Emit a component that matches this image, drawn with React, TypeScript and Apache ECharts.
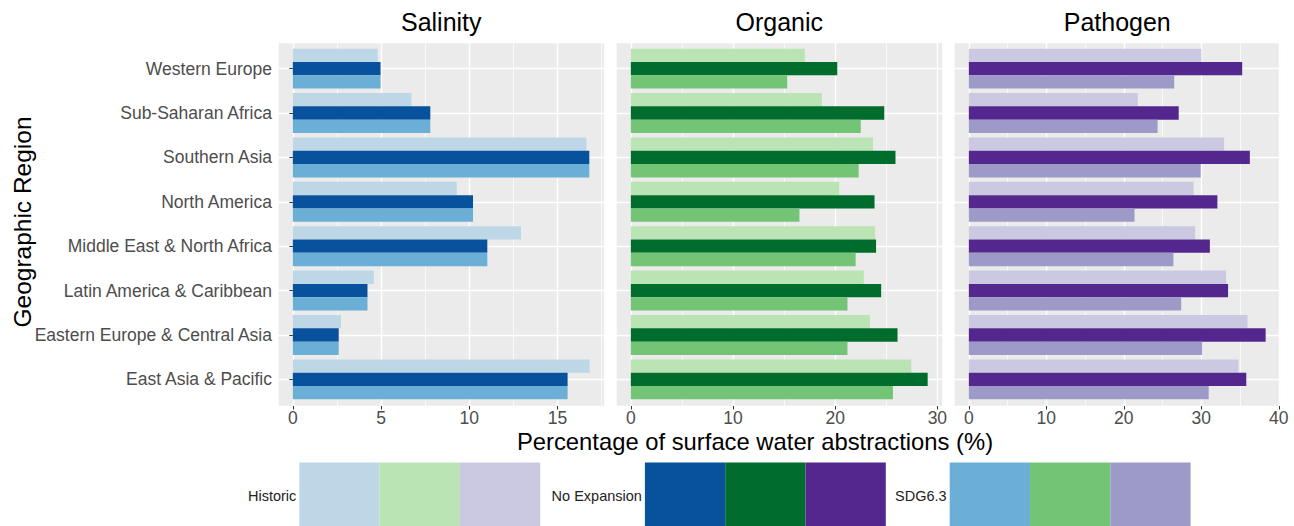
import React, { useEffect, useRef } from "react";
import * as echarts from "echarts";

// ---------- data ----------
const regions = [
  "East Asia & Pacific",
  "Eastern Europe & Central Asia",
  "Latin America & Caribbean",
  "Middle East & North Africa",
  "North America",
  "Southern Asia",
  "Sub-Saharan Africa",
  "Western Europe",
];

const scenarios = ["Historic", "No Expansion", "SDG6.3"];
const panelTitles = ["Salinity", "Organic", "Pathogen"];

const salinityHistoric = [16.82, 2.73, 4.59, 12.93, 9.29, 16.64, 6.72, 4.81];
const salinityNoExpansion = [15.57, 2.6, 4.23, 11.02, 10.21, 16.8, 7.79, 4.97];
const salinitySDG = [15.57, 2.6, 4.23, 11.02, 10.21, 16.8, 7.79, 4.97];

const organicHistoric = [27.45, 23.4, 22.8, 23.9, 20.4, 23.7, 18.7, 17.03];
const organicNoExpansion = [29.05, 26.1, 24.5, 24.0, 23.85, 25.9, 24.8, 20.2];
const organicSDG = [25.65, 21.2, 21.2, 22.0, 16.5, 22.3, 22.5, 15.3];

const pathogenHistoric = [34.8, 35.96, 33.2, 29.2, 29.0, 32.94, 21.8, 30.0];
const pathogenNoExpansion = [35.8, 38.3, 33.45, 31.1, 32.07, 36.26, 27.08, 35.27];
const pathogenSDG = [30.95, 30.1, 27.4, 26.4, 21.38, 29.92, 24.36, 26.5];

const salinityTicks = [0, 5, 10, 15];
const organicTicks = [0, 10, 20, 30];
const pathogenTicks = [0, 10, 20, 30, 40];

const salinityColors = ["#BDD7E7", "#08519C", "#6BAED6"];
const organicColors = ["#BAE4B3", "#006D2C", "#74C476"];
const pathogenColors = ["#CBC9E2", "#54278F", "#9E9AC8"];

const xTitle = "Percentage of surface water abstractions (%)";
const yTitle = "Geographic Region";

// ---------- layout ----------
const FONT = "'Liberation Sans', Arial, sans-serif";
const PANEL_LEFT = [278, 616, 954];
const PANEL_W = 326.5;
const PANEL_TOP = 42;
const PANEL_H = 364;
const UNIT = PANEL_H / 8.2;

function buildOption() {
  const panels = [
    { title: panelTitles[0], values: [salinityHistoric, salinityNoExpansion, salinitySDG], colors: salinityColors, ticks: salinityTicks },
    { title: panelTitles[1], values: [organicHistoric, organicNoExpansion, organicSDG], colors: organicColors, ticks: organicTicks },
    { title: panelTitles[2], values: [pathogenHistoric, pathogenNoExpansion, pathogenSDG], colors: pathogenColors, ticks: pathogenTicks },
  ];

  const grid: any[] = [];
  const xAxis: any[] = [];
  const yAxis: any[] = [];
  const series: any[] = [];
  const graphic: any[] = [];

  panels.forEach((p, i) => {
    const dataMax = Math.max(...p.values.flat());
    const min = -0.05 * dataMax;
    const max = 1.05 * dataMax;
    const step = p.ticks[1] - p.ticks[0];
    const left = PANEL_LEFT[i];

    grid.push({
      left,
      top: PANEL_TOP,
      width: PANEL_W,
      height: PANEL_H,
      show: true,
      backgroundColor: "#EBEBEB",
      borderWidth: 0,
    });
    grid.push({
      left,
      top: PANEL_TOP + 0.1 * UNIT,
      width: PANEL_W,
      height: 8 * UNIT,
    });

    // major x axis (background grid)
    xAxis.push({
      gridIndex: 2 * i,
      type: "value",
      min,
      max,
      minInterval: step,
      maxInterval: step,
      axisLine: { show: false },
      axisTick: {
        show: true,
        length: 3.5,
        customValues: p.ticks,
        lineStyle: { color: "#333333", width: 1 },
      },
      axisLabel: {
        customValues: p.ticks,
        color: "#4D4D4D",
        fontSize: 17.5,
        fontFamily: FONT,
        margin: 3,
        formatter: (v: number) => (p.ticks.includes(Math.round(v * 1000) / 1000) ? String(v) : ""),
      },
      splitLine: { show: true, lineStyle: { color: "#FFFFFF", width: 1.4 } },
    });
    // minor grid lines axis (shifted by half a step)
    xAxis.push({
      gridIndex: 2 * i,
      type: "value",
      position: "top",
      min: min - step / 2,
      max: max - step / 2,
      minInterval: step,
      maxInterval: step,
      axisLine: { show: false },
      axisTick: { show: false },
      axisLabel: { show: false },
      splitLine: { show: true, lineStyle: { color: "#FFFFFF", width: 0.7 } },
    });
    // bar x axis
    xAxis.push({
      gridIndex: 2 * i + 1,
      type: "value",
      min,
      max,
      show: false,
    });

    yAxis.push({
      gridIndex: 2 * i,
      type: "value",
      min: 0.4,
      max: 8.6,
      minInterval: 1,
      maxInterval: 1,
      axisLine: { show: false },
      axisTick: { show: false },
      axisLabel: { show: false },
      splitLine: { show: true, lineStyle: { color: "#FFFFFF", width: 1.4 } },
    });
    yAxis.push({
      gridIndex: 2 * i + 1,
      type: "category",
      data: regions,
      axisLine: { show: false },
      axisTick: {
        show: i === 0,
        alignWithLabel: true,
        length: 3.5,
        lineStyle: { color: "#333333", width: 1 },
      },
      axisLabel: {
        show: i === 0,
        color: "#4D4D4D",
        fontSize: 17.5,
        fontFamily: FONT,
        margin: 6,
      },
      splitLine: { show: false },
    });

    p.values.forEach((vals, k) => {
      series.push({
        name: `${p.title} ${scenarios[k]}`,
        type: "bar",
        xAxisIndex: 3 * i + 2,
        yAxisIndex: 2 * i + 1,
        data: vals,
        barGap: "0%",
        barCategoryGap: "10%",
        itemStyle: { color: p.colors[k] },
      });
    });

    graphic.push({
      type: "text",
      x: left + PANEL_W / 2,
      y: 22,
      style: {
        text: p.title,
        fill: "#000000",
        fontSize: 25,
        fontFamily: FONT,
        align: "center",
        verticalAlign: "middle",
      },
    });
  });

  // axis titles
  graphic.push({
    type: "text",
    x: 755,
    y: 441,
    style: { text: xTitle, fill: "#000000", fontSize: 23.8, lineHeight: 22, fontFamily: FONT, align: "center", verticalAlign: "middle" },
  });
  graphic.push({
    type: "text",
    x: 22,
    y: 222,
    rotation: Math.PI / 2,
    style: { text: yTitle, fill: "#000000", fontSize: 24.5, fontFamily: FONT, align: "center", verticalAlign: "middle" },
  });

  // legend
  const legendStarts = [299.3, 644.9, 949.7];
  const keyColors = [
    [salinityColors[0], organicColors[0], pathogenColors[0]],
    [salinityColors[1], organicColors[1], pathogenColors[1]],
    [salinityColors[2], organicColors[2], pathogenColors[2]],
  ];
  scenarios.forEach((s, k) => {
    const x0 = legendStarts[k];
    graphic.push({
      type: "text",
      x: x0 - 3,
      y: 496,
      style: { text: s, fill: "#222222", fontSize: 14.5, fontFamily: FONT, align: "right", verticalAlign: "middle" },
    });
    keyColors[k].forEach((c, j) => {
      graphic.push({
        type: "rect",
        shape: { x: x0 + j * 80.3, y: 462.5, width: 80.3, height: 80 },
        style: { fill: c },
      });
    });
  });

  return {
    animation: false,
    backgroundColor: "#FFFFFF",
    grid,
    xAxis,
    yAxis,
    series,
    graphic,
  };
}

export default function App() {
  const ref = useRef<HTMLDivElement>(null);
  useEffect(() => {
    if (!ref.current) return;
    const chart = echarts.init(ref.current, undefined, { renderer: "svg" });
    chart.setOption(buildOption() as any);
    return () => chart.dispose();
  }, []);
  return (
    <div
      ref={ref}
      style={{ position: "absolute", left: 0, top: 0, width: 1294, height: 526, background: "#FFFFFF" }}
    />
  );
}
